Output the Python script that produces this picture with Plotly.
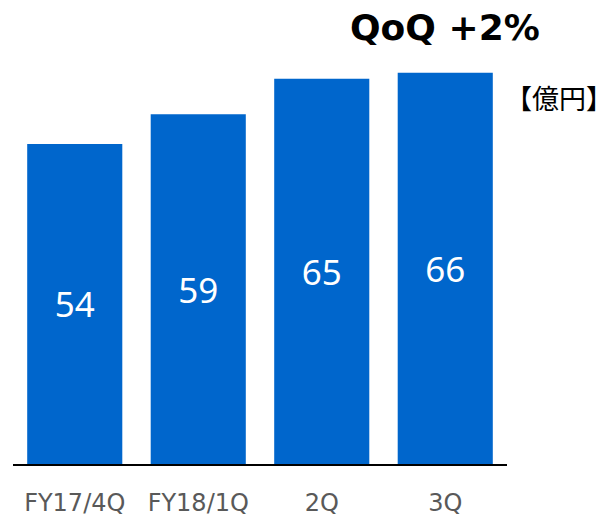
import plotly.graph_objects as go

# Quarterly values (100M yen)
categories = ["FY17/4Q", "FY18/1Q", "2Q", "3Q"]
values = [54, 59, 65, 66]
qoq_label = "QoQ +2%"
unit_label = "【億円】"

BAR_COLOR = "#0066CC"

W, H = 615, 518
M_L, M_R, M_T, M_B = 13, 108, 50, 54
plot_w = W - M_L - M_R
plot_h = H - M_T - M_B

fig = go.Figure(
    go.Bar(
        x=categories,
        y=values,
        marker=dict(color=BAR_COLOR, line=dict(width=0)),
        width=0.77,
        text=[str(v) for v in values],
        textposition="inside",
        insidetextanchor="middle",
        textfont=dict(family="Noto Sans", size=35, color="white"),
        hoverinfo="skip",
    )
)

fig.update_layout(
    template="none",
    width=W,
    height=H,
    margin=dict(l=M_L, r=M_R, t=M_T, b=M_B, autoexpand=False),
    paper_bgcolor="white",
    plot_bgcolor="white",
    showlegend=False,
    uniformtext=dict(mode=False),
    xaxis=dict(
        range=[-0.5, 3.5],
        automargin=False,
        showline=True,
        linecolor="#000000",
        linewidth=2,
        ticks="",
        showgrid=False,
        zeroline=False,
        tickfont=dict(family="DejaVu Sans", size=24, color="#595959"),
        ticklabelstandoff=16,
        fixedrange=True,
    ),
    yaxis=dict(
        range=[0, 69.86],
        automargin=False,
        visible=False,
        fixedrange=True,
    ),
    annotations=[
        # quarter-on-quarter change, above the last bar
        dict(
            text=f"<b>{qoq_label}</b>",
            x=3, xref="x",
            y=1 + (M_T - 28) / plot_h, yref="paper", yanchor="middle",
            showarrow=False,
            font=dict(family="DejaVu Sans", size=36, color="#000000"),
        ),
        # unit label at the right
        dict(
            text=unit_label,
            x=1 + (615 - (W - M_R)) / plot_w, xref="paper", xanchor="right",
            y=1 - (97 - M_T) / plot_h, yref="paper", yanchor="middle",
            showarrow=False,
            font=dict(family="Noto Sans CJK JP", size=27, color="#000000"),
        ),
    ],
)

fig.write_html("out.html")
